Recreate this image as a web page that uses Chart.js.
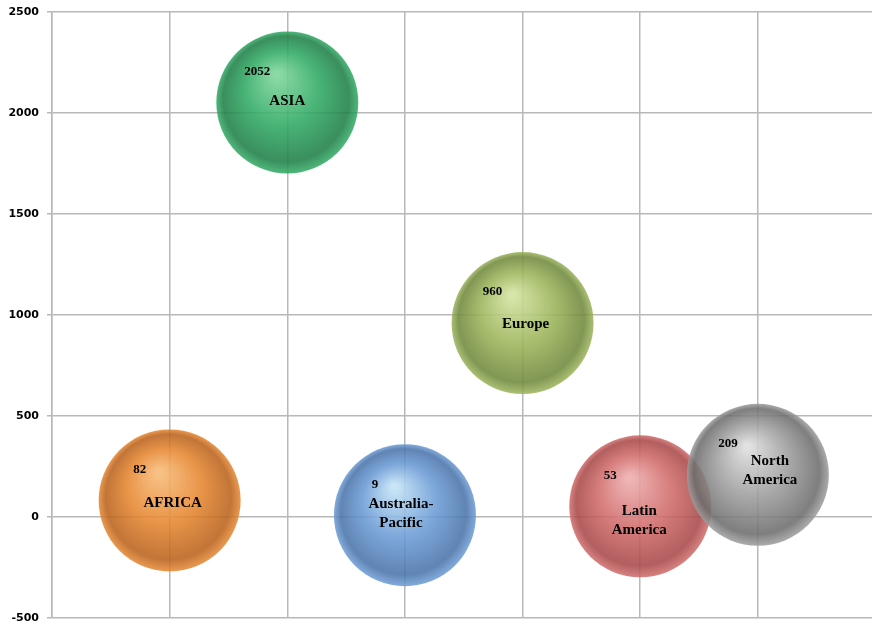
<!DOCTYPE html>
<html>
<head>
<meta charset="utf-8">
<script src="https://cdn.jsdelivr.net/npm/chart.js@4/dist/chart.umd.min.js"></script>
<style>
  html, body { margin: 0; padding: 0; background: #fff; overflow: hidden; }
  #wrap { width: 872px; height: 624px; position: relative; }
</style>
</head>
<body>
<div id="wrap"><canvas id="bubbles"></canvas></div>
<script>
// data
const REGIONS  = [["AFRICA"], ["ASIA"], ["Australia-", "Pacific"], ["Europe"], ["Latin", "America"], ["North", "America"]];
const X_POS    = [1, 2, 3, 4, 5, 6];
const VALUES   = [82, 2052, 9, 960, 53, 209];
const Y_TICKS  = [-500, 0, 500, 1000, 1500, 2000, 2500];

// sphere colours: [highlight, base, shade]
const SPHERE_COLORS = [
  ["#f7bb7a", "#e6862f", "#b9621c"],
  ["#80d69c", "#2faa63", "#1f7f47"],
  ["#c3e2f5", "#6b9bd5", "#4a74aa"],
  ["#d2e3a0", "#9bb459", "#6f883c"],
  ["#eeaeae", "#d06a6a", "#a84949"],
  ["#dedede", "#9c9c9c", "#6d6d6d"],
];
// small nudges for the name labels (px)
const NAME_SHIFT = [[3, 3], [0, -1], [-4, -2], [3, 1], [-1, 14], [12, -4]];

const BUBBLE_R = 71;

function sphereFill(c) {
  const i = c.dataIndex;
  const cols = SPHERE_COLORS[i] || SPHERE_COLORS[0];
  const chart = c.chart;
  const xs = chart.scales.x, ys = chart.scales.y;
  if (c.type !== "data" || !xs || !ys || !c.raw) return cols[1];
  const cx = xs.getPixelForValue(c.raw.x);
  const cy = ys.getPixelForValue(c.raw.y);
  if (!isFinite(cx) || !isFinite(cy)) return cols[1];
  const r = BUBBLE_R;
  const g = chart.ctx.createRadialGradient(cx - r * 0.15, cy - r * 0.4, r * 0.04, cx, cy, r);
  g.addColorStop(0, cols[0] + "e8");
  g.addColorStop(0.5, cols[1] + "e0");
  g.addColorStop(0.88, cols[2] + "e0");
  g.addColorStop(1, cols[1] + "d8");
  return g;
}

const bubbleLabels = {
  id: "bubbleLabels",
  afterDatasetsDraw(chart) {
    const { ctx } = chart;
    const meta = chart.getDatasetMeta(0);
    ctx.save();
    ctx.fillStyle = "#000";
    ctx.textAlign = "center";
    ctx.textBaseline = "middle";
    meta.data.forEach((pt, i) => {
      ctx.font = "bold 13px 'Liberation Serif', serif";
      ctx.fillText(String(VALUES[i]), pt.x - 30, pt.y - 31);
      ctx.font = "bold 15px 'Liberation Serif', serif";
      const lines = REGIONS[i];
      const lh = 19;
      const [dx, dy] = NAME_SHIFT[i];
      const y0 = pt.y + dy - (lines.length - 1) * lh / 2;
      lines.forEach((ln, k) => ctx.fillText(ln, pt.x + dx, y0 + k * lh));
    });
    ctx.restore();
  },
};

const points = X_POS.map((x, i) => ({ x, y: VALUES[i], r: BUBBLE_R }));

new Chart(document.getElementById("bubbles"), {
  type: "bubble",
  data: {
    datasets: [{
      data: points,
      backgroundColor: sphereFill,
      hoverBackgroundColor: sphereFill,
      borderWidth: 0,
      hoverBorderWidth: 0,
      clip: false,
    }],
  },
  options: {
    responsive: true,
    maintainAspectRatio: false,
    animation: false,
    events: [],
    layout: { autoPadding: false, padding: { top: 12, bottom: 0, left: 0, right: 0 } },
    plugins: { legend: { display: false }, tooltip: { enabled: false } },
    scales: {
      x: {
        type: "linear",
        min: 0,
        max: 6.97,
        afterBuildTicks: (s) => { s.ticks = [0, 1, 2, 3, 4, 5, 6].map((v) => ({ value: v })); },
        afterFit: (s) => { s.height = 6; s.paddingLeft = 0; s.paddingRight = 0; },
        ticks: { display: false },
        grid: { color: "#b8b8b8", lineWidth: 1.5, drawTicks: false },
        border: { display: false },
      },
      y: {
        min: -500,
        max: 2500,
        afterBuildTicks: (s) => { s.ticks = Y_TICKS.map((v) => ({ value: v })); },
        afterFit: (s) => { s.width = 52; s.paddingTop = 0; s.paddingBottom = 0; },
        ticks: {
          color: "#000",
          padding: 8,
          font: { family: "'DejaVu Sans', sans-serif", size: 11, weight: "bold" },
          callback: (v) => String(v),
        },
        grid: { color: "#b8b8b8", lineWidth: 1.5, tickLength: 5 },
        border: { color: "#b8b8b8", width: 1.5 },
      },
    },
  },
  plugins: [bubbleLabels],
});
</script>
</body>
</html>
